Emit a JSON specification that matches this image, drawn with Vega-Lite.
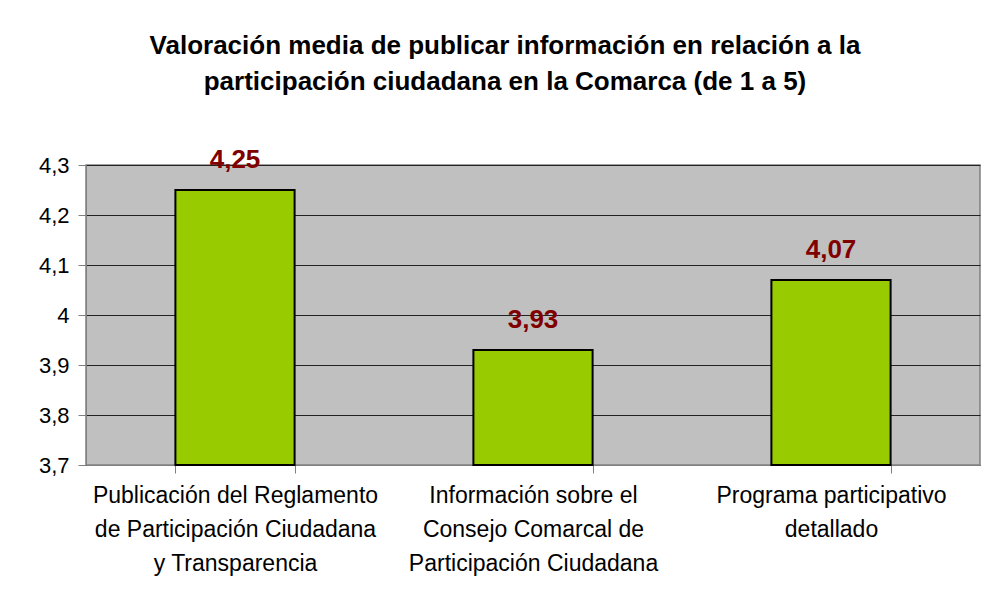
{
  "$schema": "https://vega.github.io/schema/vega-lite/v6.json",
  "width": 894,
  "height": 300,
  "autosize": {"type": "none"},
  "padding": {"left": 86, "top": 165, "right": 6, "bottom": 141},
  "background": "white",
  "config": {
    "font": "Liberation Sans",
    "locale": {"number": {"decimal": ",", "thousands": ".", "grouping": [3], "currency": ["", " €"]}},
    "view": {"fill": "#C0C0C0", "stroke": "#808080", "strokeWidth": 1.5}
  },
  "title": {
    "text": ["Valoración media de publicar información en relación a la", "participación ciudadana en la Comarca (de 1 a 5)"],
    "fontSize": 26,
    "font": "Liberation Sans",
    "fontWeight": "bold",
    "color": "black",
    "lineHeight": 36,
    "offset": 52,
    "anchor": "middle",
    "dx": -28
  },
  "data": {
    "values": [
      {"cat": "Publicación del Reglamento|de Participación Ciudadana|y Transparencia", "valor": 4.25},
      {"cat": "Información sobre el|Consejo Comarcal de|Participación Ciudadana", "valor": 3.93},
      {"cat": "Programa participativo|detallado", "valor": 4.07}
    ]
  },
  "encoding": {
    "x": {
      "field": "cat",
      "type": "nominal",
      "sort": null,
      "scale": {"paddingInner": 0.6, "paddingOuter": 0.3},
      "axis": {
        "title": null,
        "labelAngle": 0,
        "labelExpr": "split(datum.label, '|')",
        "labelFontSize": 23,
        "labelLineHeight": 34,
        "labelColor": "black",
        "labelPadding": 11,
        "tickBand": "extent",
        "tickSize": 8,
        "tickColor": "#808080",
        "domainColor": "#808080",
        "labelLimit": 0
      }
    },
    "y": {
      "field": "valor",
      "type": "quantitative",
      "scale": {"domain": [3.7, 4.3], "nice": false, "zero": false},
      "axis": {
        "title": null,
        "values": [3.7, 3.8, 3.9, 4.0, 4.1, 4.2, 4.3],
        "format": ".2~f",
        "labelFontSize": 22,
        "labelColor": "black",
        "labelPadding": 9,
        "tickSize": 8,
        "tickColor": "#808080",
        "domainColor": "#808080",
        "grid": true,
        "gridColor": "#222222",
        "gridWidth": 1
      }
    }
  },
  "layer": [
    {
      "mark": {"type": "bar", "color": "#99CC00", "stroke": "black", "strokeWidth": 2},
      "encoding": {"y2": {"datum": 3.7}}
    },
    {
      "mark": {"type": "text", "color": "#800000", "fontWeight": "bold", "fontSize": 26, "baseline": "alphabetic", "dy": -22},
      "encoding": {"text": {"field": "valor", "type": "quantitative", "format": ".2f"}}
    }
  ]
}
